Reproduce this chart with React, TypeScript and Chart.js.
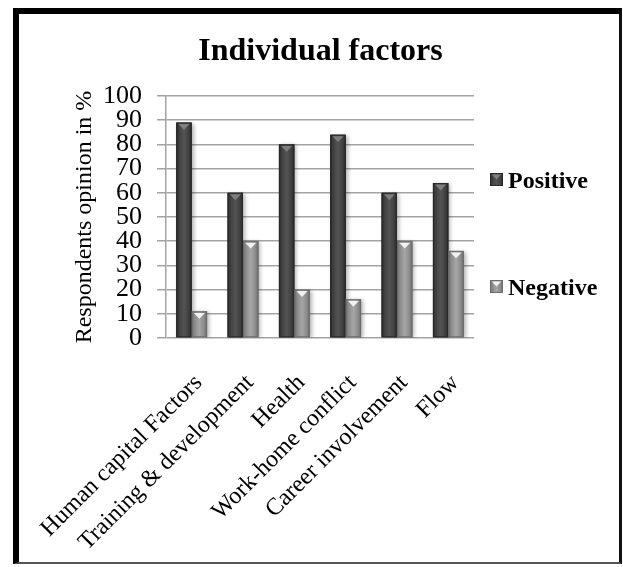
import { useEffect, useRef } from 'react';
import { Chart, registerables } from 'chart.js';

Chart.register(...registerables);

const categories = [
  'Human capital Factors',
  'Training & development',
  'Health',
  'Work-home conflict',
  'Career involvement',
  'Flow',
];
const positiveValues = [89, 60, 80, 84, 60, 64];
const negativeValues = [11, 40, 20, 16, 40, 36];
const seriesNames = ['Positive', 'Negative'];
const chartTitle = 'Individual factors';
const yAxisTitle = 'Respondents opinion in %';
const yMin = 0;
const yMax = 100;
const yStep = 10;

const SERIF = "'Liberation Serif', 'Times New Roman', serif";

type Pal = { fill: string; edge: string; mid: string; tri: string };
const palette: Pal[] = [
  { fill: '#414141', edge: '#282828', mid: '#545454', tri: '#7e7e7e' },
  { fill: '#8c8c8c', edge: '#6c6c6c', mid: '#a6a6a6', tri: '#f2f2f2' },
];

function paintBar(ctx: CanvasRenderingContext2D, left: number, right: number, top: number, bottom: number, p: Pal) {
  const w = right - left;
  const g = ctx.createLinearGradient(left, 0, right, 0);
  g.addColorStop(0, p.edge);
  g.addColorStop(0.2, p.fill);
  g.addColorStop(0.5, p.mid);
  g.addColorStop(0.8, p.fill);
  g.addColorStop(1, p.edge);
  ctx.fillStyle = g;
  ctx.fillRect(left, top, w, bottom - top);
  const inset = w * 0.14;
  ctx.beginPath();
  ctx.moveTo(left + inset, top + 1.5);
  ctx.lineTo(right - inset, top + 1.5);
  ctx.lineTo((left + right) / 2, top + 1.5 + w * 0.38);
  ctx.closePath();
  ctx.fillStyle = p.tri;
  ctx.fill();
  ctx.strokeStyle = p.edge;
  ctx.lineWidth = 1;
  ctx.strokeRect(left + 0.5, top + 0.5, w - 1, bottom - top - 1);
}

const barStyle = {
  id: 'barStyle',
  beforeDatasetsDraw(chart: any) {
    const c = chart.ctx;
    c.save();
    c.shadowColor = 'rgba(0,0,0,0.3)';
    c.shadowBlur = 4;
    c.shadowOffsetX = 2;
    c.shadowOffsetY = 1;
  },
  afterDatasetsDraw(chart: any) {
    const c = chart.ctx;
    c.restore();
    chart.data.datasets.forEach((_ds: any, i: number) => {
      const meta = chart.getDatasetMeta(i);
      meta.data.forEach((el: any) => {
        const { x, y, base, width } = el.getProps(['x', 'y', 'base', 'width'], true);
        paintBar(c, x - width / 2, x + width / 2, y, base, palette[i]);
      });
    });
  },
};

const sideLegend = {
  id: 'sideLegend',
  afterDraw(chart: any) {
    const { ctx, chartArea } = chart;
    const baselines = [chartArea.top + 92, chartArea.top + 199];
    const boxX = chartArea.right + 16;
    ctx.save();
    chart.data.datasets.forEach((ds: any, i: number) => {
      const b = baselines[i];
      paintBar(ctx, boxX, boxX + 13, b - 15, b - 2, palette[i]);
      ctx.fillStyle = '#000';
      ctx.font = `bold 24px ${SERIF}`;
      ctx.textBaseline = 'alphabetic';
      ctx.textAlign = 'left';
      ctx.fillText(ds.label, boxX + 18, b);
    });
    ctx.restore();
  },
};

const centeredTitle = {
  id: 'centeredTitle',
  afterDraw(chart: any) {
    const { ctx } = chart;
    ctx.save();
    ctx.fillStyle = '#000';
    ctx.font = `bold 32px ${SERIF}`;
    ctx.textAlign = 'center';
    ctx.textBaseline = 'alphabetic';
    ctx.fillText(chartTitle, chart.width / 2 + 9, 60);
    ctx.restore();
  },
};

export default function App() {
  const ref = useRef<HTMLCanvasElement | null>(null);
  useEffect(() => {
    if (!ref.current) return;
    const chart = new Chart(ref.current, {
      type: 'bar',
      data: {
        labels: categories,
        datasets: [
          { label: seriesNames[0], data: positiveValues, backgroundColor: palette[0].fill, borderWidth: 0 },
          { label: seriesNames[1], data: negativeValues, backgroundColor: palette[1].fill, borderWidth: 0 },
        ],
      },
      options: {
        animation: false,
        responsive: false,
        layout: { padding: { top: 96, left: 68, right: 149, bottom: 5 } },
        datasets: { bar: { categoryPercentage: 0.6, barPercentage: 1.0 } },
        plugins: {
          legend: { display: false },
          tooltip: { enabled: false },
          title: { display: false },
        },
        scales: {
          x: {
            grid: { display: false },
            border: { display: false },
            afterFit(scale: any) {
              scale.height = 224;
              scale.paddingLeft = 0;
              scale.paddingRight = 0;
            },
            ticks: {
              color: '#000',
              font: { family: SERIF, size: 24 },
              minRotation: 45,
              maxRotation: 45,
              autoSkip: false,
              padding: 23,
              labelOffset: 7,
            },
          },
          y: {
            min: yMin,
            max: yMax,
            afterFit(scale: any) {
              scale.width = 98;
              scale.paddingTop = 0;
              scale.paddingBottom = 0;
            },
            ticks: {
              stepSize: yStep,
              autoSkip: false,
              color: '#000',
              font: { family: SERIF, size: 26 },
              padding: 15,
            },
            grid: { color: '#a3a3a3', lineWidth: 1.5, tickLength: 9 },
            border: { display: true, color: '#a3a3a3', width: 1.5 },
            title: {
              display: true,
              text: yAxisTitle,
              color: '#000',
              font: { family: SERIF, size: 24 },
              padding: { top: 2, bottom: 8 },
            },
          },
        },
      },
      plugins: [barStyle, sideLegend, centeredTitle],
    } as any);
    return () => chart.destroy();
  }, []);
  return (
    <div style={{ position: 'fixed', left: 0, top: 0, width: 623, height: 567, background: '#fff' }}>
      <canvas ref={ref} width={623} height={567} style={{ position: 'absolute', left: 0, top: 0 }} />
      <div
        style={{
          position: 'absolute',
          left: 13,
          top: 8,
          width: 609,
          height: 556,
          boxSizing: 'border-box',
          borderLeft: '6px solid #000',
          borderTop: '6px solid #000',
          borderRight: '3px solid #111',
          borderBottom: '2px solid #555',
          pointerEvents: 'none',
        }}
      />
    </div>
  );
}
